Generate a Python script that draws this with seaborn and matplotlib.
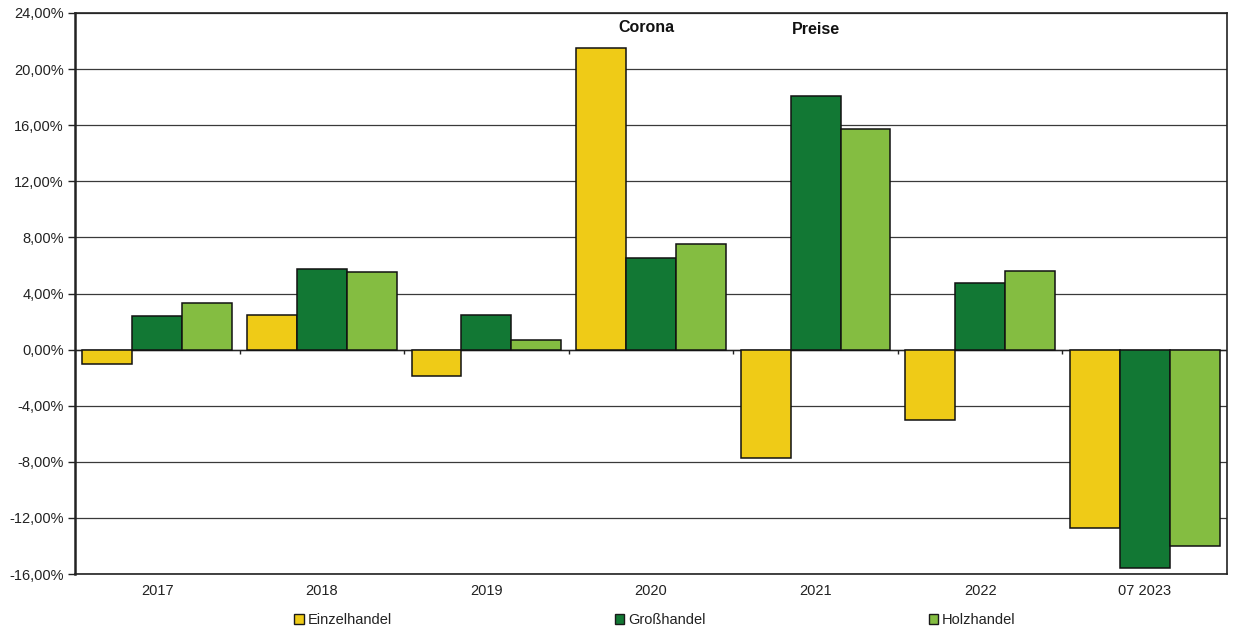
import numpy as np
import pandas as pd
import seaborn as sns
import matplotlib
matplotlib.use("Agg")
import matplotlib.pyplot as plt
from matplotlib.ticker import FuncFormatter, MultipleLocator
from matplotlib.patches import Patch

categories = ["2017", "2018", "2019", "2020", "2021", "2022", "07 2023"]
series_names = ["Einzelhandel", "Großhandel", "Holzhandel"]
einzelhandel = [-1.0, 2.5, -1.85, 21.5, -7.7, -5.0, -12.7]
grosshandel = [2.42, 5.77, 2.5, 6.56, 18.1, 4.78, -15.55]
holzhandel = [3.35, 5.5, 0.72, 7.55, 15.75, 5.63, -14.0]
colors = ["#EFCB17", "#127834", "#84BD41"]
annotations = [("Corona", "2020"), ("Preise", "2021")]

df = pd.DataFrame({
    "Jahr": categories * 3,
    "Serie": [series_names[0]] * 7 + [series_names[1]] * 7 + [series_names[2]] * 7,
    "Wert": einzelhandel + grosshandel + holzhandel,
})

sns.set_style("white")
plt.rcParams["font.family"] = ["Liberation Sans", "DejaVu Sans"]

fig = plt.figure(figsize=(12.42, 6.35), dpi=100)
ax = fig.add_axes([75 / 1242, 1 - 574 / 635, (1227 - 75) / 1242, (574 - 13) / 635])

sns.barplot(data=df, x="Jahr", y="Wert", hue="Serie", order=categories,
            hue_order=series_names, palette=colors, width=0.91, saturation=1,
            edgecolor="#111111", linewidth=1.1, ax=ax, legend=False, zorder=3)

ax.set_ylim(-16, 24)
ax.set_xlim(-0.5, len(categories) - 0.5)
ax.yaxis.set_major_locator(MultipleLocator(4))
ax.yaxis.set_major_formatter(FuncFormatter(lambda v, p: f"{v:.2f}".replace(".", ",") + "%"))
ax.grid(axis="y", color="#3a3a3a", linewidth=0.9, zorder=0)
ax.set_axisbelow(True)
ax.axhline(0, color="#222222", linewidth=1.0, zorder=2)
ax.vlines(np.arange(len(categories) - 1) + 0.5, -0.3, 0, color="#222222", linewidth=1.0, zorder=2)

ax.set_xlabel("")
ax.set_ylabel("")
for s in ax.spines.values():
    s.set_visible(True)
    s.set_color("#222222")
    s.set_linewidth(1.2)
ax.spines["left"].set_linewidth(1.8)
ax.tick_params(axis="y", which="major", left=True, length=5, width=1, color="#222222",
               labelsize=10.5, pad=3, labelcolor="#222222")
ax.tick_params(axis="x", bottom=False, labelsize=10.5, pad=4, labelcolor="#222222")

label_dx = {"Corona": -0.03, "Preise": 0.0}
label_y = {"Corona": 23.0, "Preise": 22.85}
for text, cat in annotations:
    ax.text(categories.index(cat) + label_dx[text], label_y[text], text, ha="center", va="center",
            fontsize=11.5, fontweight="bold", color="#111111")

handles = [Patch(facecolor=c, edgecolor="#1a1a1a", linewidth=1.0) for c in colors]
fig.legend(handles, series_names, loc="center", bbox_to_anchor=(655 / 1242, 1 - 620 / 635),
           ncol=3, frameon=False, fontsize=10.5, handlelength=0.65, handleheight=0.65,
           handletextpad=0.25, columnspacing=15.3, labelcolor="#222222")

fig.savefig("out.png", dpi=100, facecolor="white")
